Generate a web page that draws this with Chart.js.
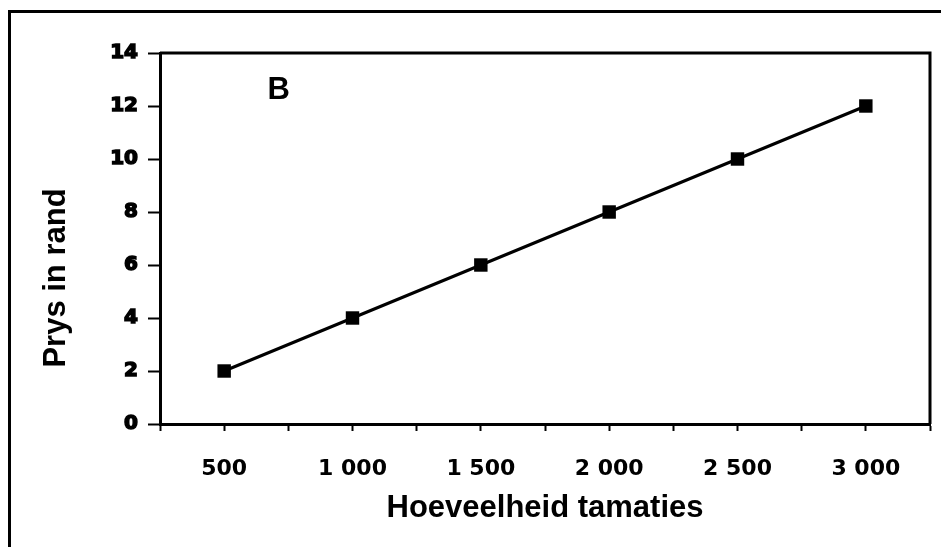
<!DOCTYPE html>
<html>
<head>
<meta charset="utf-8">
<script src="https://cdn.jsdelivr.net/npm/chart.js@4"></script>
<style>
  body { margin: 0; background: #fff; }
  #wrap { width: 941px; height: 547px; position: relative; }
</style>
</head>
<body>
<div id="wrap"><canvas id="Chart"></canvas></div>
<script>
// data
var quantity = [500, 1000, 1500, 2000, 2500, 3000];   // Hoeveelheid tamaties
var price    = [2, 4, 6, 8, 10, 12];                   // Prys in rand

// axis settings
var xMin = 250, xMax = 3250, xStep = 250;
var yMin = 0,   yMax = 14,   yStep = 2;

var xTitle = "Hoeveelheid tamaties";
var yTitle = "Prys in rand";
var panelLabel = "B";

var points = quantity.map(function (q, i) { return { x: q, y: price[i] }; });

// "1 000" style labels, only every 500
function fmtTick(v) {
  if (v % 500 !== 0) return "";
  return String(v).replace(/\B(?=(\d{3})+(?!\d))/g, " ");
}

var frame = {
  id: "frame",
  beforeDraw: function (chart) {
    var ctx = chart.ctx;
    ctx.save();
    ctx.strokeStyle = "#000";
    ctx.lineWidth = 3;
    ctx.beginPath();
    ctx.moveTo(9.5, 547);
    ctx.lineTo(9.5, 11.5);
    ctx.lineTo(941, 11.5);
    ctx.stroke();
    ctx.restore();
  },
  afterDraw: function (chart) {
    var ctx = chart.ctx, a = chart.chartArea;
    ctx.save();
    ctx.strokeStyle = "#000";
    ctx.lineWidth = 3;
    ctx.beginPath();
    ctx.moveTo(a.left, a.top);
    ctx.lineTo(a.right, a.top);
    ctx.lineTo(a.right, a.bottom);
    ctx.stroke();

    // panel letter
    var sx = chart.scales.x, sy = chart.scales.y;
    ctx.fillStyle = "#000";
    ctx.font = "bold 31px 'Liberation Sans', Arial, sans-serif";
    ctx.textAlign = "center";
    ctx.textBaseline = "middle";
    ctx.fillText(panelLabel, sx.getPixelForValue(712), sy.getPixelForValue(12.6));

    // y axis title
    ctx.translate(65, 278);
    ctx.rotate(-Math.PI / 2);
    ctx.textBaseline = "alphabetic";
    ctx.fillText(yTitle, 0, 0);
    ctx.restore();
  }
};

var ctx = document.getElementById("Chart").getContext("2d");
var myChart = new Chart(ctx, {
  type: "line",
  data: {
    datasets: [
      {
        data:            points,
        borderColor:     "#000",
        borderWidth:     3,
        backgroundColor: "#000",
        pointStyle:      "rect",
        pointRadius:     9.5,
        pointHoverRadius: 9.5,
        pointBorderWidth: 0,
        tension:         0,
      },
    ]
  },
  options: {
    responsive: true,
    maintainAspectRatio: false,
    animation: false,
    layout: { padding: { top: 53, right: 11, left: 0, bottom: 0 } },
    plugins: {
      legend:  { display: false },
      tooltip: { enabled: false },
    },
    scales: {
      x: {
        type: "linear",
        min: xMin,
        max: xMax,
        afterFit: function (s) { s.height = 123; s.paddingLeft = 0; s.paddingRight = 0; },
        border: { display: true, color: "#000", width: 3 },
        grid: {
          drawOnChartArea: false,
          drawTicks: true,
          tickLength: 7,
          tickWidth: 2,
          tickColor: "#000",
        },
        ticks: {
          stepSize: xStep,
          autoSkip: false,
          maxRotation: 0,
          padding: 25,
          color: "#000",
          font: { family: "'DejaVu Sans'", weight: "bold", size: 22 },
          callback: function (v) { return fmtTick(v); },
        },
        title: {
          display: true,
          text: xTitle,
          color: "#000",
          padding: { top: 0, bottom: 20 },
          font: { family: "'Liberation Sans', Arial, sans-serif", weight: "bold", size: 31 },
        },
      },
      y: {
        min: yMin,
        max: yMax,
        afterFit: function (s) { s.width = 160; s.paddingTop = 0; s.paddingBottom = 0; },
        border: { display: true, color: "#000", width: 3 },
        grid: {
          drawOnChartArea: false,
          drawTicks: true,
          tickLength: 12,
          tickWidth: 2,
          tickColor: "#000",
        },
        ticks: {
          stepSize: yStep,
          padding: 10,
          color: "#000",
          textStrokeColor: "#000",
          textStrokeWidth: 1.5,
          font: { family: "'DejaVu Sans'", weight: "bold", size: 20 },
        },
      }
    }
  },
  plugins: [frame]
});
</script>
</body>
</html>
